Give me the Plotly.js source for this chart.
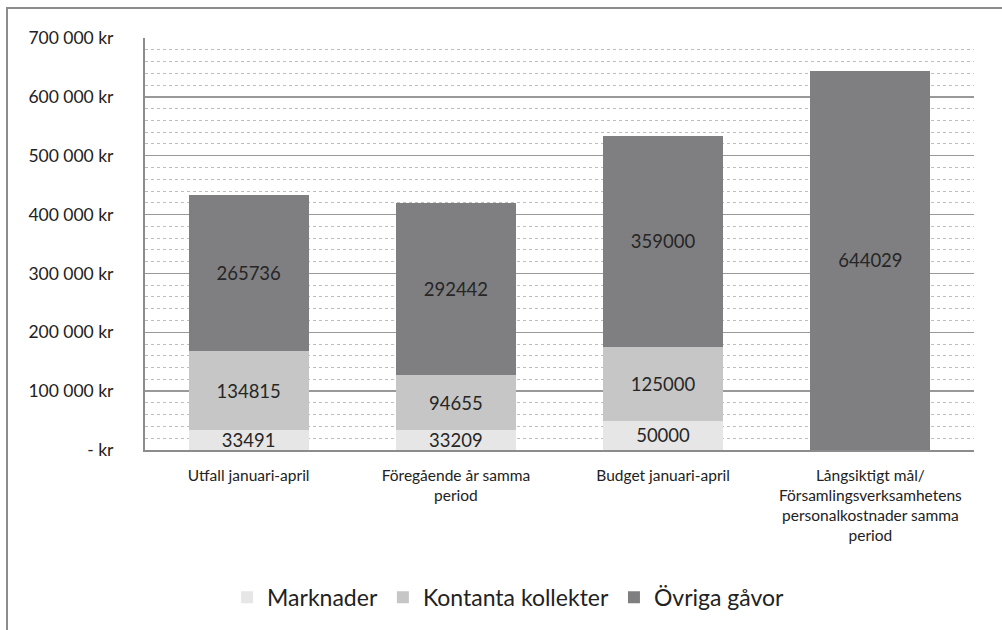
<!DOCTYPE html>
<html><head><meta charset="utf-8">
<script src="https://cdn.plot.ly/plotly-3.0.1.min.js"></script>
<style>
html,body{margin:0;padding:0;background:#fff;overflow:hidden;}
#frame{position:absolute;left:6px;top:7px;width:1100px;height:700px;border-left:2px solid #8c8c8c;border-top:2px solid #8c8c8c;}
#chart{position:absolute;left:0;top:0;width:1002px;height:630px;}
</style></head>
<body>
<div id="frame"></div>
<div id="chart"></div>
<script>
const categories = [
  "Utfall januari-april",
  "Föregående år samma<br>period",
  "Budget januari-april",
  "Långsiktigt mål/<br>Församlingsverksamhetens<br>personalkostnader samma<br>period"
];
const marknader = [33491, 33209, 50000, null];
const kontanta = [134815, 94655, 125000, null];
const ovriga = [265736, 292442, 359000, 644029];
const tickVals = [0, 100000, 200000, 300000, 400000, 500000, 600000, 700000];
const tickText = ["- kr", "100 000 kr", "200 000 kr", "300 000 kr", "400 000 kr", "500 000 kr", "600 000 kr", "700 000 kr"];

const font = "Lato, 'Open Sans', sans-serif";
function mk(name, vals, color) {
  return {
    type: "bar", name: name, x: categories, y: vals,
    marker: {color: color, line: {width: 0}},
    text: vals.map(v => v == null ? "" : String(v)),
    textposition: "inside", insidetextanchor: "middle", textangle: 0,
    constraintext: "none",
    textfont: {family: font, size: 18.5, color: "#262626"},
    hoverinfo: "skip", width: 0.58
  };
}
const data = [
  mk("Marknader", marknader, "#e6e6e6"),
  mk("Kontanta kollekter", kontanta, "#c6c6c6"),
  mk("Övriga gåvor", ovriga, "#7f7f82")
];
const layout = {
  width: 1002, height: 630,
  paper_bgcolor: "rgba(0,0,0,0)", plot_bgcolor: "#fff",
  margin: {l: 145, r: 28, t: 38, b: 179},
  barmode: "stack",
  font: {family: font, color: "#222"},
  showlegend: true,
  legend: {orientation: "h", x: 0.438, xanchor: "center", y: -0.354, yanchor: "middle",
           font: {family: font, size: 23, color: "#222"}, traceorder: "normal", itemwidth: 30},
  xaxis: {showgrid: false, zeroline: false, showline: true, linecolor: "#8c8c8c", linewidth: 2,
          tickfont: {family: font, size: 15.5, color: "#222"}, ticks: "", ticklabelstandoff: 10,
          automargin: false},
  yaxis: {range: [0, 700000], tickvals: tickVals, ticktext: tickText,
          tickfont: {family: font, size: 17.5, color: "#222"}, ticks: "", ticklabelstandoff: 26,
          showgrid: true, gridcolor: "#999", gridwidth: 1.5,
          zeroline: false, showline: true, linecolor: "#8c8c8c", linewidth: 2,
          minor: {dtick: 20000, showgrid: true, gridcolor: "#bdbdbd", gridwidth: 1, griddash: "dot"},
          automargin: false}
};
Plotly.newPlot("chart", data, layout, {staticPlot: true, displayModeBar: false});
</script>
</body></html>
